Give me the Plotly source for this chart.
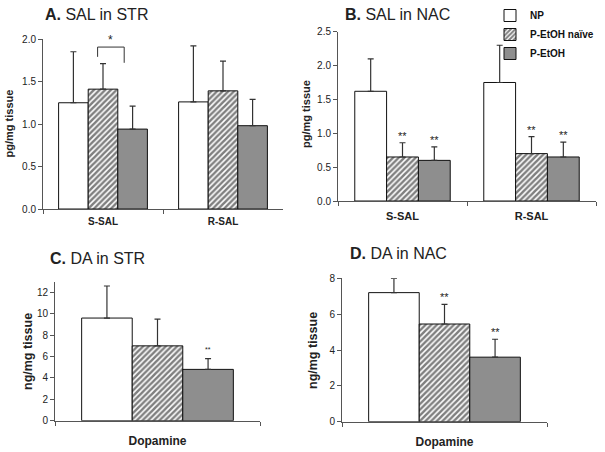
import plotly.graph_objects as go

W, H = 605, 452
FONT = "Liberation Sans, Arial, sans-serif"

groups = ["NP", "P-EtOH naïve", "P-EtOH"]

# Panel A: SAL in STR (pg/mg tissue)
a_cats = ["S-SAL", "R-SAL"]
a_mean = {"NP": [1.25, 1.26], "P-EtOH naïve": [1.41, 1.39], "P-EtOH": [0.94, 0.98]}
a_err = {"NP": [0.60, 0.66], "P-EtOH naïve": [0.30, 0.35], "P-EtOH": [0.27, 0.31]}

# Panel B: SAL in NAC (pg/mg tissue)
b_cats = ["S-SAL", "R-SAL"]
b_mean = {"NP": [1.62, 1.75], "P-EtOH naïve": [0.65, 0.70], "P-EtOH": [0.60, 0.65]}
b_err = {"NP": [0.48, 0.55], "P-EtOH naïve": [0.21, 0.25], "P-EtOH": [0.20, 0.22]}

# Panel C: DA in STR (ng/mg tissue)
c_cats = ["Dopamine"]
c_mean = {"NP": [9.6], "P-EtOH naïve": [7.0], "P-EtOH": [4.8]}
c_err = {"NP": [3.0], "P-EtOH naïve": [2.5], "P-EtOH": [1.0]}

# Panel D: DA in NAC (ng/mg tissue)
d_cats = ["Dopamine"]
d_mean = {"NP": [7.2], "P-EtOH naïve": [5.45], "P-EtOH": [3.6]}
d_err = {"NP": [0.8], "P-EtOH naïve": [1.1], "P-EtOH": [1.0]}

styles = {
    "NP": dict(color="white", pattern=None),
    "P-EtOH naïve": dict(color="white", pattern=dict(shape="/", fgcolor="black", bgcolor="white", size=4, solidity=0.62)),
    "P-EtOH": dict(color="#8e8e8e", pattern=None),
}

BARGAP = 0.26

fig = go.Figure()

panels = [
    ("x", "y", a_cats, a_mean, a_err, True),
    ("x2", "y2", b_cats, b_mean, b_err, False),
    ("x3", "y3", c_cats, c_mean, c_err, False),
    ("x4", "y4", d_cats, d_mean, d_err, False),
]

for xa, ya, cats, mean, err, legend in panels:
    for g in groups:
        st = styles[g]
        marker = dict(color=st["color"], line=dict(color="#111111", width=1))
        if st["pattern"]:
            marker["pattern"] = st["pattern"]
        fig.add_trace(go.Bar(
            x=cats, y=mean[g], name=g, xaxis=xa, yaxis=ya,
            marker=marker, showlegend=legend, legendgroup=g,
            error_y=dict(type="data", symmetric=False, array=err[g],
                         arrayminus=[0] * len(cats), color="#333333",
                         thickness=1.2, width=3),
        ))


def dom(p0, p1, total):
    return [p0 / total, p1 / total]


def ydom(top, bottom):
    return [1 - bottom / H, 1 - top / H]


axis_common = dict(showline=True, linecolor="#555555", linewidth=1, ticks="outside",
                   ticklen=4, tickcolor="#555555", showgrid=False, zeroline=False,
                   automargin=False,
                   tickfont=dict(family=FONT, size=10, color="#222222"))

xcommon = dict(axis_common, type="category", tickson="boundaries")

fig.update_layout(
    width=W, height=H, margin=dict(l=0, r=0, t=0, b=0, autoexpand=False),
    paper_bgcolor="white", plot_bgcolor="white",
    barmode="group", bargap=BARGAP, bargroupgap=0,
    font=dict(family=FONT, color="#222222"),
    xaxis=dict(xcommon, domain=dom(43, 283, W), anchor="y",
               tickfont=dict(family=FONT, size=10, color="#222222", weight="bold"),
               ticklabelstandoff=3),
    yaxis=dict(axis_common, domain=ydom(39, 209), anchor="x", range=[0, 2.0],
               dtick=0.5, tickformat=".1f"),
    xaxis2=dict(xcommon, domain=dom(338, 596, W), anchor="y2",
                tickfont=dict(family=FONT, size=11, color="#222222", weight="bold"),
                ticklabelstandoff=5),
    yaxis2=dict(axis_common, domain=ydom(31.7, 201), anchor="x2", range=[0, 2.5],
                dtick=0.5, tickformat=".1f"),
    xaxis3=dict(xcommon, domain=dom(55, 260, W), anchor="y3",
                tickfont=dict(family=FONT, size=12, color="#222222", weight="bold"),
                ticklabelstandoff=9),
    yaxis3=dict(axis_common, domain=ydom(281.7, 420.7), anchor="x3", range=[0, 13],
                tickvals=[0, 2, 4, 6, 8, 10, 12]),
    xaxis4=dict(xcommon, domain=dom(342, 547, W), anchor="y4",
                tickfont=dict(family=FONT, size=12, color="#222222", weight="bold"),
                ticklabelstandoff=9),
    yaxis4=dict(axis_common, domain=ydom(278.3, 421.7), anchor="x4", range=[0, 8],
                dtick=2),
    legend=dict(x=490 / W, y=1 - 1 / H, xanchor="left", yanchor="top",
                font=dict(family=FONT, size=10, color="#111111", weight="bold"),
                bgcolor="rgba(0,0,0,0)", tracegroupgap=0, itemwidth=30),
)

ann = []
titles = [("A.", " SAL in STR", 43, 15), ("B.", " SAL in NAC", 343, 14),
          ("C.", " DA in STR", 48, 258), ("D.", " DA in NAC", 348, 253)]
for bold, rest, px, py in titles:
    ann.append(dict(text=f"<b>{bold}</b>{rest}", xref="paper", yref="paper",
                    x=px / W, y=1 - py / H, xanchor="left", yanchor="middle",
                    showarrow=False, font=dict(family=FONT, size=16, color="#222222")))

ylabels = [("pg/mg tissue", 8.5, 124, 11), ("pg/mg tissue", 306, 114, 11),
           ("ng/mg tissue", 28, 352, 12.5), ("ng/mg tissue", 313, 351, 12.5)]
for t, px, py, fs in ylabels:
    ann.append(dict(text=f"<b>{t}</b>", xref="paper", yref="paper",
                    x=px / W, y=1 - py / H, xanchor="center", yanchor="middle",
                    textangle=-90, showarrow=False,
                    font=dict(family=FONT, size=fs, color="#222222")))

# bar offset within a category (in category units)
bw = (1 - BARGAP) / len(groups)


def bar_x(cat_idx, grp_idx):
    return cat_idx + (grp_idx - (len(groups) - 1) / 2) * bw


def stars(xa, ya, cats, mean, err, marks, size, shift):
    for (ci, gi) in marks:
        g = groups[gi]
        ann.append(dict(text="**", xref=xa, yref=ya, x=bar_x(ci, gi),
                        y=mean[g][ci] + err[g][ci], yanchor="bottom", yshift=shift,
                        showarrow=False, font=dict(family=FONT, size=size, color="#222222")))


stars("x2", "y2", b_cats, b_mean, b_err, [(0, 1), (0, 2), (1, 1), (1, 2)], 11, -1)
stars("x3", "y3", c_cats, c_mean, c_err, [(0, 2)], 7, 4)
stars("x4", "y4", d_cats, d_mean, d_err, [(0, 1), (0, 2)], 11, -1)

# significance bracket in panel A between P-EtOH naïve and P-EtOH for S-SAL
bl = bar_x(0, 1) - 0.045
br = bar_x(0, 2) - 0.07
fig.add_shape(type="path", xref="x", yref="y",
              path=f"M {bl},1.79 L {bl},1.905 L {br},1.905 L {br},1.72",
              line=dict(color="#333333", width=1))
ann.append(dict(text="*", xref="x", yref="y", x=(bl + br) / 2, y=1.905,
                yanchor="bottom", yshift=-2, showarrow=False,
                font=dict(family=FONT, size=12, color="#222222")))

fig.update_layout(annotations=ann)
fig.write_html("out.html", config={"displayModeBar": False},
               post_script="document.body.style.margin='0';document.body.style.overflow='hidden';")
